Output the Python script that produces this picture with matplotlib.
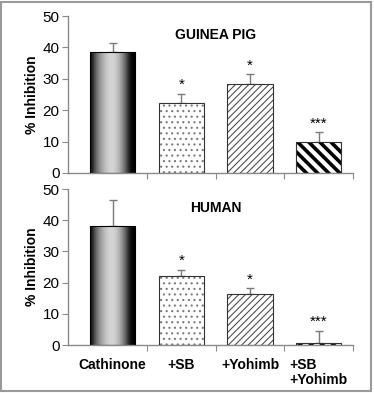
import numpy as np
import matplotlib
matplotlib.use("Agg")
import matplotlib.pyplot as plt
from matplotlib.patches import Rectangle

# ── data ──
categories = ["Cathinone", "+SB", "+Yohimb", "+SB\n+Yohimb"]
guinea_vals = [38.5, 22.2, 28.3, 9.7]
guinea_err = [2.8, 3.1, 3.2, 3.2]
guinea_stars = ["", "*", "*", "***"]
human_vals = [38.3, 22.0, 16.5, 0.8]
human_err = [8.3, 2.2, 1.8, 3.8]
human_stars = ["", "*", "*", "***"]
panel_titles = ["GUINEA PIG", "HUMAN"]

plt.rcParams["font.family"] = ["Liberation Sans", "DejaVu Sans"]

fig = plt.figure(figsize=(3.74, 3.93), dpi=100)
ax_top = fig.add_axes([0.182, 0.560, 0.762, 0.399])
ax_bot = fig.add_axes([0.182, 0.122, 0.762, 0.397])

# grey profile across the first bar (dark rims, light middle)
profile = np.array([0.05, 0.30, 0.45, 0.58, 0.68, 0.76, 0.82, 0.84, 0.82,
                    0.76, 0.66, 0.52, 0.36, 0.15, 0.02, 0.0])
spine_grey = "#8a8a8a"
width = 0.66


def draw_panel(ax, vals, errs, stars, title, show_labels):
    x = np.arange(len(vals))
    # bar 1: shaded cylinder
    b = ax.bar(x[0], vals[0], width, color="none", edgecolor="black", lw=0.8, zorder=3)[0]
    im = ax.imshow(profile[None, :], cmap="gray", vmin=0, vmax=1, aspect="auto",
                   extent=[x[0] - width / 2, x[0] + width / 2, 0, vals[0]],
                   interpolation="bicubic", zorder=2)
    im.set_clip_path(b)
    # bar 2: dots
    b2 = ax.bar(x[1], vals[1], width, color="white", edgecolor="#7a7a7a", lw=0,
                hatch="...", zorder=2)[0]
    ax.bar(x[1], vals[1], width, color="none", edgecolor="#333333", lw=0.8, zorder=3)
    # bar 3: fine diagonal
    b3 = ax.bar(x[2], vals[2], width, color="white", edgecolor="#505050", lw=0,
                hatch="/////", zorder=2)[0]
    ax.bar(x[2], vals[2], width, color="none", edgecolor="#333333", lw=0.8, zorder=3)
    # bar 4: thick reverse diagonal
    b4 = ax.bar(x[3], vals[3], width, color="white", edgecolor="black", lw=0,
                hatch="\\\\\\", zorder=2)[0]
    ax.bar(x[3], vals[3], width, color="none", edgecolor="#333333", lw=0.8, zorder=3)
    for p, lw in ((b2, 0.8), (b3, 0.8), (b4, 2.6)):
        if hasattr(p, "set_hatch_linewidth"):
            p.set_hatch_linewidth(lw)

    ax.errorbar(x, vals, yerr=[np.zeros(len(errs)), errs], fmt="none",
                ecolor="#7a7a7a", elinewidth=1.0, capsize=3, capthick=1.0, zorder=1)
    for xi, v, e, s in zip(x, vals, errs, stars):
        if s:
            ax.text(xi, v + e + 0.5, s, ha="center", va="bottom", fontsize=11)

    ax.text(1.5, 44, title, ha="center", va="center", fontsize=10, fontweight="bold")

    ax.set_xlim(-0.65, 3.5)
    ax.set_ylim(0, 50)
    ax.set_yticks(range(0, 51, 10))
    ax.set_ylabel("% Inhibition", fontsize=10, fontweight="bold", labelpad=3)
    ax.set_xticks([0.5, 1.5, 2.5, 3.5])
    ax.set_xticklabels([])
    ax.set_xticks(x, minor=True)
    if show_labels:
        ax.set_xticklabels(categories, minor=True, fontsize=10, fontweight="bold",
                           va="top", linespacing=1.1)
    ax.tick_params(axis="x", which="minor", length=0, pad=9)
    ax.tick_params(axis="x", which="major", length=4, color=spine_grey, direction="out")
    ax.tick_params(axis="y", length=4, color=spine_grey, labelsize=11, pad=2)
    for side in ("top", "right"):
        ax.spines[side].set_visible(False)
    for side in ("left", "bottom"):
        ax.spines[side].set_color(spine_grey)
        ax.spines[side].set_linewidth(1.0)
    ax.set_facecolor("none")


draw_panel(ax_top, guinea_vals, guinea_err, guinea_stars, panel_titles[0], False)
draw_panel(ax_bot, human_vals, human_err, human_stars, panel_titles[1], True)

for lab in ax_bot.get_xticklabels(minor=True):
    if "\n" in lab.get_text():
        lab.set_multialignment("left")

fig.patches.append(Rectangle((0.004, 0.004), 0.988, 0.99, transform=fig.transFigure,
                             fill=False, edgecolor="#9a9a9a", lw=1.5))

fig.savefig("out.png", dpi=100)
